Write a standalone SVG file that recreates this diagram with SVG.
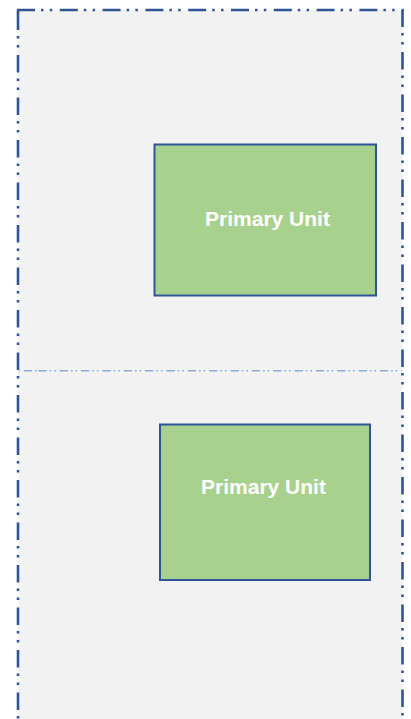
<svg xmlns="http://www.w3.org/2000/svg" width="411" height="719" viewBox="0 0 411 719">
<style>
.bg{fill:#f2f2f2;stroke:none}
.edge{fill:none;stroke:#2f5597;stroke-width:2.6;stroke-linecap:butt}
.h{stroke-dasharray:18 6 2.5 6.3 2.5 7.5}
.v{stroke-dasharray:17.5 6 2.5 6.5 2.5 7.5}
.mid{fill:none;stroke:#8eaadb;stroke-width:1.6;stroke-dasharray:8.3 3 1.6 3 1.6 3.85}
.unit rect{fill:#a9d18e;stroke:#2f5597;stroke-width:2}
.unit text{fill:#ffffff;font-family:"Liberation Sans",Arial,sans-serif;font-weight:bold;font-size:21px;text-anchor:middle}
</style>
<rect width="411" height="719" fill="#ffffff"/>
<rect class="bg" x="18" y="10" width="384.5" height="720"/>
<g id="frame">
<line class="edge h" x1="17" y1="10" x2="403.8" y2="10"/>
<path class="edge" d="M18,13 V10"/>
<line class="edge v" x1="18" y1="12.5" x2="18" y2="730"/>
<line class="edge v" x1="402.5" y1="9.5" x2="402.5" y2="730"/>
</g>
<g id="connectors">
<line class="mid" x1="38.3" y1="370.7" x2="402" y2="370.7"/>
<line class="mid" x1="19.2" y1="370.7" x2="38.3" y2="370.7" stroke-dasharray="1.6 3 1.6 3 1.6 3.85" stroke-dashoffset="-4.6"/>
</g>
<g id="unit1" class="unit">
<rect x="154.5" y="144.5" width="221.5" height="151"/>
<text x="267.5" y="226">Primary Unit</text>
</g>
<g id="unit2" class="unit">
<rect x="160" y="424.5" width="210" height="155.5"/>
<text x="263.5" y="494">Primary Unit</text>
</g>
</svg>
